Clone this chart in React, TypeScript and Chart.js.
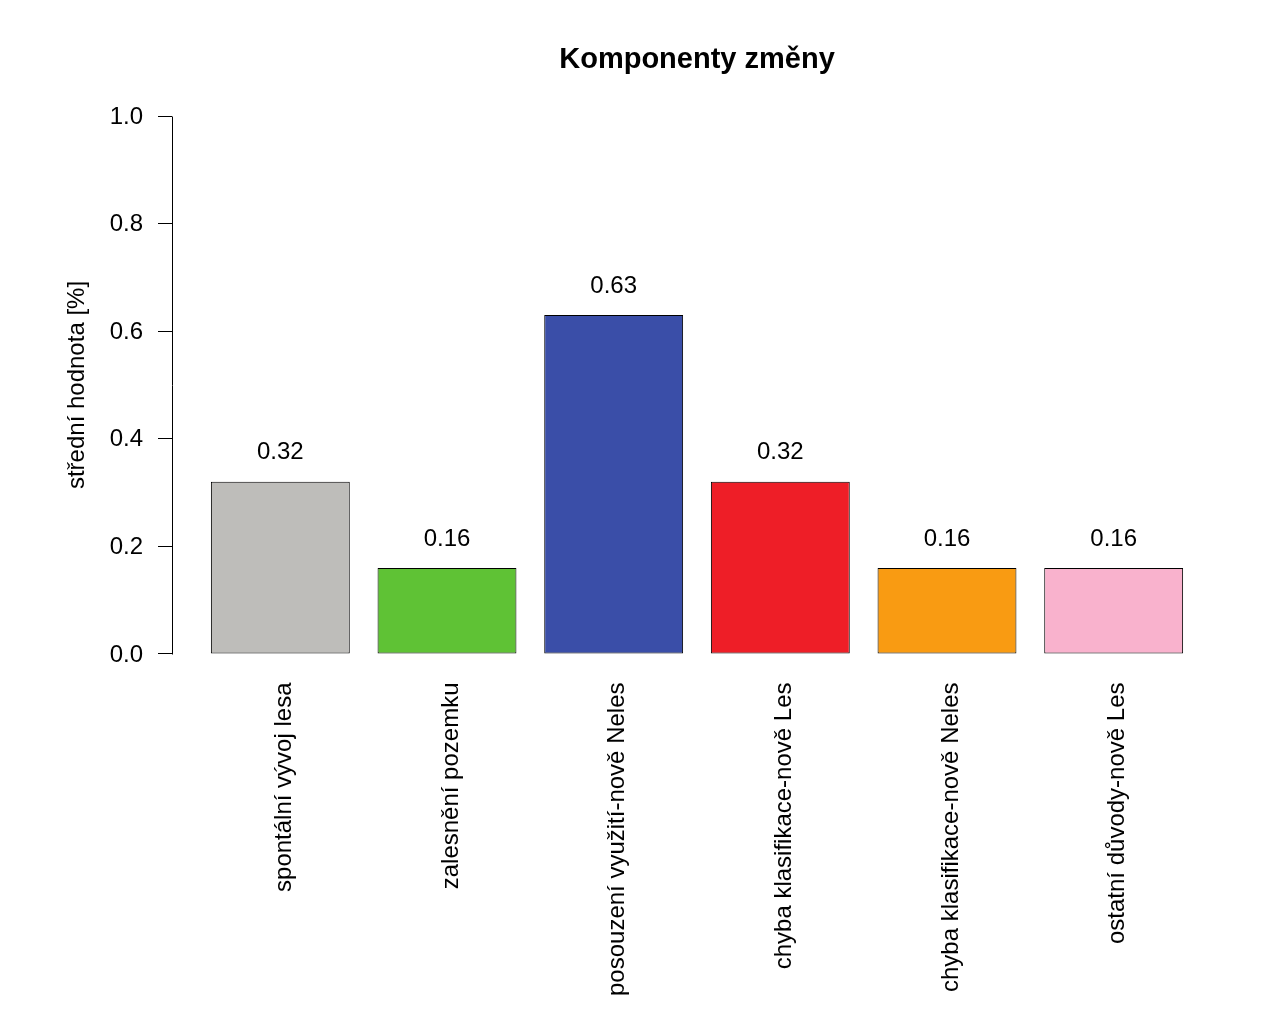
import React, { useEffect, useRef } from "react";
import { Chart, registerables } from "chart.js";

Chart.register(...registerables);

const chartTitle = "Komponenty změny";
const yAxisTitle = "střední hodnota [%]";
const categories = [
  "spontální vývoj lesa",
  "zalesnění pozemku",
  "posouzení využití-nově Neles",
  "chyba klasifikace-nově Les",
  "chyba klasifikace-nově Neles",
  "ostatní důvody-nově Les",
];
const values = [0.32, 0.16, 0.63, 0.32, 0.16, 0.16];
const valueLabels = ["0.32", "0.16", "0.63", "0.32", "0.16", "0.16"];
const barColors = ["#BEBDBA", "#5FC235", "#3A4EA8", "#EE1E27", "#F99B12", "#F9B2CD"];
const yTicks = [0, 0.2, 0.4, 0.6, 0.8, 1.0];

const FONT = "'Liberation Sans', Arial, Helvetica, sans-serif";

export default function App() {
  const ref = useRef<HTMLCanvasElement | null>(null);

  useEffect(() => {
    document.body.style.margin = "0";
    const canvas = ref.current;
    if (!canvas) return;

    const axisPlugin = {
      id: "rAxisAndLabels",
      afterDatasetsDraw(chart: any) {
        const ctx = chart.ctx;
        const y = chart.scales.y;
        const area = chart.chartArea;
        ctx.save();
        ctx.strokeStyle = "#000";
        ctx.lineWidth = 1;
        ctx.beginPath();
        const px = Math.round(area.left) + 0.5;
        ctx.moveTo(px, Math.round(y.getPixelForValue(yTicks[0])) + 0.5);
        ctx.lineTo(px, Math.round(y.getPixelForValue(yTicks[yTicks.length - 1])) + 0.5);
        ctx.stroke();
        // title centred over the plot region
        ctx.fillStyle = "#000";
        ctx.font = `bold 29px ${FONT}`;
        ctx.textAlign = "center";
        ctx.textBaseline = "middle";
        ctx.fillText(chartTitle, (area.left + area.right) / 2, 60);
        // value labels
        const meta = chart.getDatasetMeta(0);
        ctx.font = `24px ${FONT}`;
        meta.data.forEach((el: any, i: number) => {
          ctx.fillText(valueLabels[i], el.x, el.y - 29);
        });
        ctx.restore();
      },
    };

    const chart = new Chart(canvas, {
      type: "bar",
      data: {
        datasets: [
          {
            data: values.map((v, i) => ({ x: i + 1, y: v })),
            backgroundColor: barColors,
            borderColor: "#000",
            borderWidth: 1,
            borderSkipped: false,
            categoryPercentage: 1,
            barPercentage: 1 / 1.2,
          },
        ],
      },
      options: {
        animation: false,
        responsive: false,
        maintainAspectRatio: false,
        layout: { padding: { top: 94.5, left: 0, right: 58, bottom: 0 } },
        plugins: {
          legend: { display: false },
          tooltip: { enabled: false },
          title: { display: false },
        },
        scales: {
          x: {
            type: "linear",
            offset: false,
            min: 0.35,
            max: 6.65,
            grid: { display: false, offset: false },
            border: { display: false },
            afterBuildTicks: (scale: any) => {
              scale.ticks = categories.map((_, i) => ({ value: i + 1 }));
            },
            afterFit: (scale: any) => {
              scale.height = 1028 - 675.5;
            },
            ticks: {
              autoSkip: false,
              minRotation: 90,
              maxRotation: 90,
              padding: -1,
              labelOffset: 4,
              color: "#000",
              font: { family: FONT, size: 24 },
              callback: (v: any) => categories[Math.round(v) - 1] ?? "",
            },
          },
          y: {
            min: -0.04,
            max: 1.04,
            border: { display: false },
            grid: {
              drawOnChartArea: false,
              drawTicks: true,
              tickLength: 14,
              color: "#000",
              lineWidth: 1,
            },
            afterBuildTicks: (scale: any) => {
              scale.ticks = yTicks.map((v) => ({ value: v }));
            },
            afterFit: (scale: any) => {
              scale.width = 172;
            },
            ticks: {
              padding: 15,
              labelOffset: 1,
              color: "#000",
              font: { family: FONT, size: 24 },
              callback: (v: any) => Number(v).toFixed(1),
            },
            title: {
              display: true,
              text: yAxisTitle,
              color: "#000",
              font: { family: FONT, size: 24 },
              padding: { top: 63, bottom: 0 },
            },
          },
        },
      },
      plugins: [axisPlugin],
    } as any);

    return () => chart.destroy();
  }, []);

  return (
    <div style={{ width: 1280, height: 1028, background: "#fff", overflow: "hidden" }}>
      <canvas ref={ref} width={1280} height={1028} style={{ display: "block" }} />
    </div>
  );
}
